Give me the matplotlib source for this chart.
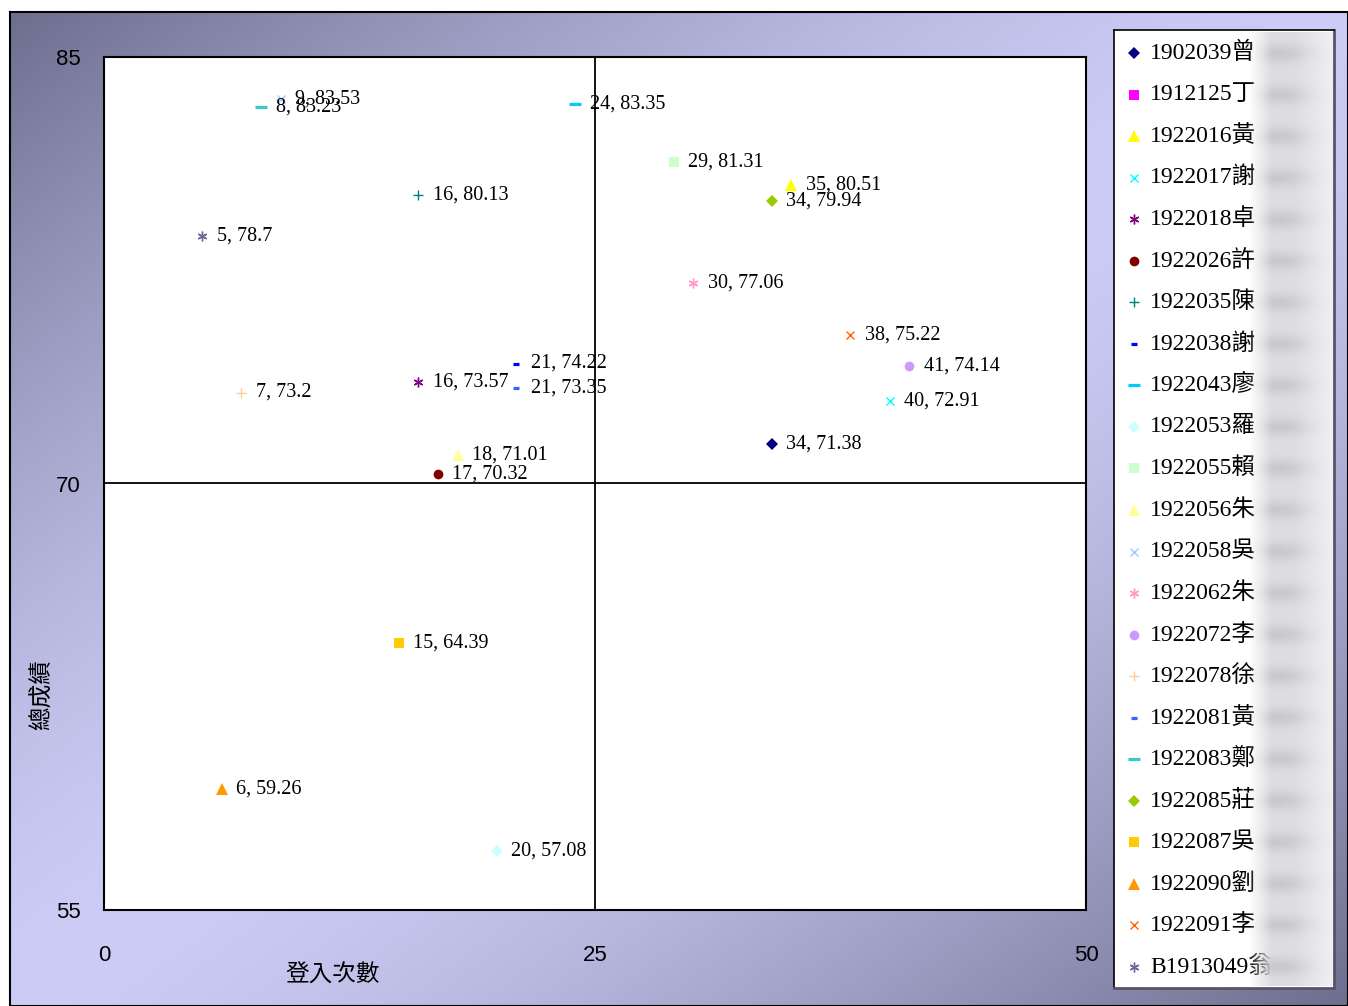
import numpy as np
import matplotlib
matplotlib.use("Agg")
import matplotlib.pyplot as plt

# ---------------- data ----------------
students = ["1902039曾", "1912125丁", "1922016黃", "1922017謝", "1922018卓", "1922026許",
            "1922035陳", "1922038謝", "1922043廖", "1922053羅", "1922055賴", "1922056朱",
            "1922058吳", "1922062朱", "1922072李", "1922078徐", "1922081黃", "1922083鄭",
            "1922085莊", "1922087吳", "1922090劉", "1922091李", "B1913049翁"]
logins = [34, np.nan, 35, 40, 16, 17, 16, 21, 24, 20, 29, 18, 9, 30, 41, 7, 21, 8,
          34, 15, 6, 38, 5]
scores = [71.38, np.nan, 80.51, 72.91, 73.57, 70.32, 80.13, 74.22, 83.35, 57.08, 81.31,
          71.01, 83.53, 77.06, 74.14, 73.2, 73.35, 83.23, 79.94, 64.39, 59.26, 75.22, 78.7]
colors = ["#000080", "#FF00FF", "#FFFF00", "#00FFFF", "#800080", "#800000", "#008080",
          "#0000FF", "#00CCFF", "#CCFFFF", "#CCFFCC", "#FFFF99", "#99CCFF", "#FF99CC",
          "#CC99FF", "#FFCC99", "#3366FF", "#33CCCC", "#99CC00", "#FFCC00", "#FF9900",
          "#FF6600", "#666699"]
marker_kinds = ["diamond", "square", "triangle", "x", "star", "circle", "plus", "sdash",
                "ldash", "diamond", "square", "triangle", "x", "star", "circle", "plus",
                "sdash", "ldash", "diamond", "square", "triangle", "x", "star"]
x_ticks = [0, 25, 50]
y_ticks = [55, 70, 85]
x_title = "登入次數"
y_title = "總成績"
x_center, y_center = 25, 70

# ---------------- styles ----------------
STYLE = {
    "diamond": dict(marker="D", ms=6.2, mew=0),
    "square": dict(marker="s", ms=7, mew=0),
    "triangle": dict(marker="^", ms=8.5, mew=0),
    "x": dict(marker="x", ms=6, mew=1.0),
    "star": dict(marker=(6, 2, 0), ms=7, mew=1.0),
    "circle": dict(marker="o", ms=7, mew=0),
    "plus": dict(marker="+", ms=7, mew=1.0),
    "sdash": dict(marker="_", ms=4.5, mew=2.3),
    "ldash": dict(marker="_", ms=9, mew=2.3),
}
serif = ["Liberation Serif", "Noto Sans CJK TC"]

W, H = 1348, 1006
fig = plt.figure(figsize=(W / 100, H / 100), dpi=100)
fig.patch.set_facecolor("white")

# background chart area with diagonal gradient
bg = fig.add_axes([10 / W, 0, 1 - 10 / W, 1 - 12 / H], zorder=-5)
ny, nx = 200, 270
gx = np.linspace(0, 1, nx)[None, :]
gy = np.linspace(0, 1, ny)[:, None]
f = np.clip(np.abs(gx + gy - 1.0), 0, 1) ** 1.5
dark = np.array([0.43, 0.43, 0.56])
light = np.array([0.80, 0.80, 0.965])
img = light[None, None, :] * (1 - f[..., None]) + dark[None, None, :] * f[..., None]
bg.imshow(img, aspect="auto", extent=[0, 1, 0, 1], origin="upper", interpolation="bilinear")
bg.set_xlim(0, 1)
bg.set_ylim(0, 1)
bg.set_xticks([])
bg.set_yticks([])
for s in bg.spines.values():
    s.set_color("black")
    s.set_linewidth(1.5)

# main plot
ax = fig.add_axes([104 / W, 1 - 910 / H, (1086 - 104) / W, (910 - 57) / H])
ax.set_facecolor("white")
ax.set_xlim(0, 50)
ax.set_ylim(55, 85)
ax.axvline(x_center, color="black", lw=1.3, zorder=1)
ax.axhline(y_center, color="black", lw=1.3, zorder=1)

for name, xv, yv, c, mk in zip(students, logins, scores, colors, marker_kinds):
    st = STYLE[mk]
    ax.plot([xv], [yv], linestyle="none", marker=st["marker"], markersize=st["ms"],
            markerfacecolor=c, markeredgecolor=c, markeredgewidth=st["mew"],
            label=name, zorder=3)
    if not (np.isnan(xv) or np.isnan(yv)):
        ax.annotate(f"{xv:g}, {yv:g}", (xv, yv), xytext=(10.5, 0), textcoords="offset points",
                    ha="left", va="center", fontsize=14.5, family=serif, color="black",
                    zorder=4)

ax.set_xticks(x_ticks)
ax.set_yticks(y_ticks)
ax.tick_params(length=0)
ax.tick_params(axis="x", pad=25, labelsize=16)
ax.tick_params(axis="y", pad=17, labelsize=16)
for lab in ax.get_xticklabels() + ax.get_yticklabels():
    lab.set_family(["Liberation Sans"])
for s in ax.spines.values():
    s.set_color("black")
    s.set_linewidth(1.5)

fig.text(333 / W, 1 - 975 / H, x_title, ha="center", va="center", fontsize=17,
         family=["Noto Sans CJK TC"])
fig.text(42 / W, 1 - 695 / H, y_title, ha="center", va="center", fontsize=17,
         rotation=90, family=["Noto Sans CJK TC"])

# legend box (drawn in its own axes, pixel coordinates of the figure)
lx0, lx1, ly0, ly1 = 1114, 1334, 30, 988
lg = fig.add_axes([lx0 / W, 1 - ly1 / H, (lx1 - lx0) / W, (ly1 - ly0) / H], zorder=5)
lg.set_xlim(lx0, lx1)
lg.set_ylim(ly1, ly0)
lg.set_facecolor("white")
lg.set_xticks([])
lg.set_yticks([])
for s in lg.spines.values():
    s.set_color("black")
    s.set_linewidth(1.2)
lg.spines["right"].set_color("#555566")
lg.spines["right"].set_linewidth(2.0)
lg.spines["bottom"].set_color("#555566")
lg.spines["bottom"].set_linewidth(2.0)
row_first, row_last = 53, 967
n = len(students)
row_step = (row_last - row_first) / (n - 1)
for i, (name, c, mk) in enumerate(zip(students, colors, marker_kinds)):
    st = STYLE[mk]
    yy = row_first + i * row_step
    lg.plot([1134], [yy], linestyle="none", marker=st["marker"], markersize=st["ms"],
            markerfacecolor=c, markeredgecolor=c, markeredgewidth=st["mew"])
    lg.text(1150, yy, name, ha="left", va="center", fontsize=17, family=serif,
            color="black")

# blurred overlay on the right part of the legend (names hidden in reference)
ov = fig.add_axes([1248 / W, 1 - 986 / H, (1333 - 1248) / W, (986 - 32) / H], zorder=10)
oh, ow = 958, 85
ox = np.linspace(0, 1, ow)[None, :]
oy = np.linspace(ly0 + 2, ly1 - 2, oh)[:, None]
ramp = np.clip(ox / 0.28, 0, 1)
base = 0.87 + 0.07 * np.clip((ox - 0.55) / 0.45, 0, 1)
bands = np.zeros((oh, 1))
for i in range(n):
    yy = row_first + i * row_step
    bands += np.exp(-((oy - yy) / 9.0) ** 2)
bandx = np.exp(-((ox - 0.35) / 0.35) ** 2)
shade = base - 0.08 * bands * bandx
rgba = np.zeros((oh, ow, 4))
rgba[..., 0] = shade
rgba[..., 1] = shade
rgba[..., 2] = shade + 0.015
rgba[..., 3] = ramp * np.ones((oh, 1))
ov.imshow(np.clip(rgba, 0, 1), aspect="auto", extent=[0, 1, 0, 1], origin="upper",
          interpolation="bilinear")
ov.set_axis_off()

fig.savefig("out.png", dpi=100, facecolor="white")
